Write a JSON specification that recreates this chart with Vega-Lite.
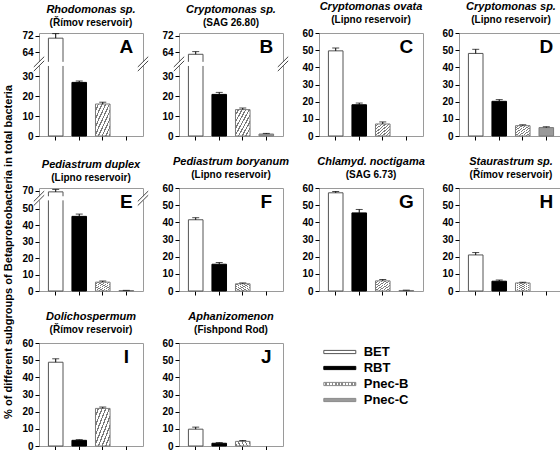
{
"$schema":"https://vega.github.io/schema/vega-lite/v6.json",
"padding":{"left":3,"top":0,"right":0,"bottom":0},
"spacing":13,
"resolve":{"scale":{"x":"independent","y":"independent"}},
"title":{"text":"% of different subgroups of Betaproteobacteria in total bacteria","orient":"left","anchor":"middle","fontSize":11.1,"fontWeight":"bold","fontStyle":"normal","offset":7,"dx":-26},
"datasets":{"bars":[
{"p":"A","g":"BET","v":70.8,"hi":73.0},{"p":"A","g":"RBT","v":26.8,"hi":27.5},{"p":"A","g":"Pnec-B","v":16.0,"hi":16.9},
{"p":"B","g":"BET","v":63.0,"hi":64.3},{"p":"B","g":"RBT","v":20.8,"hi":21.8},{"p":"B","g":"Pnec-B","v":13.2,"hi":14.0},{"p":"B","g":"Pnec-C","v":1.0,"hi":1.3},
{"p":"C","g":"BET","v":49.6,"hi":51.2},{"p":"C","g":"RBT","v":18.2,"hi":19.2},{"p":"C","g":"Pnec-B","v":7.0,"hi":8.2},
{"p":"D","g":"BET","v":48.1,"hi":50.5},{"p":"D","g":"RBT","v":20.2,"hi":21.2},{"p":"D","g":"Pnec-B","v":6.0,"hi":6.5},{"p":"D","g":"Pnec-C","v":4.9,"hi":5.4},
{"p":"E","g":"BET","v":69.3,"hi":70.8},{"p":"E","g":"RBT","v":45.5,"hi":46.9},{"p":"E","g":"Pnec-B","v":5.4,"hi":6.1},{"p":"E","g":"Pnec-C","v":0.3,"hi":0.4},
{"p":"F","g":"BET","v":41.5,"hi":42.7},{"p":"F","g":"RBT","v":15.6,"hi":16.6},{"p":"F","g":"Pnec-B","v":4.2,"hi":4.7},
{"p":"G","g":"BET","v":57.2,"hi":58.0},{"p":"G","g":"RBT","v":45.5,"hi":47.5},{"p":"G","g":"Pnec-B","v":5.9,"hi":6.7},{"p":"G","g":"Pnec-C","v":0.3,"hi":0.5},
{"p":"H","g":"BET","v":21.0,"hi":22.4},{"p":"H","g":"RBT","v":5.7,"hi":6.4},{"p":"H","g":"Pnec-B","v":4.7,"hi":5.1},
{"p":"I","g":"BET","v":48.8,"hi":50.8},{"p":"I","g":"RBT","v":3.3,"hi":3.7},{"p":"I","g":"Pnec-B","v":21.9,"hi":22.7},
{"p":"J","g":"BET","v":9.8,"hi":11.0},{"p":"J","g":"RBT","v":1.6,"hi":2.0},{"p":"J","g":"Pnec-B","v":2.7,"hi":3.2}
]},
"vconcat":[
{"hconcat":[
{"title":{"text":"Rhodomonas sp.","subtitle":"(Římov reservoir)"},"width":104,"height":103,
 "resolve":{"scale":{"x":"independent","y":"independent"}},
 "layer":[
  {"data":{"name":"bars"},"transform":[{"filter":"datum.p==='A'"}],
   "encoding":{"x":{"field":"g","type":"nominal","title":null,"scale":{"domain":["BET","RBT","Pnec-B","Pnec-C"],"paddingInner":0.38,"paddingOuter":0.4},"axis":{"labels":false,"ticks":true}}},
   "layer":[
    {"mark":{"type":"bar","strokeWidth":1},"encoding":{"y":{"field":"v","type":"quantitative","title":null,"scale":{"domain":[0,36,58.3,73.3],"range":[103,31,31,0],"nice":false,"zero":false},"axis":{"values":[0,10,20,30,64,72],"labelOverlap":false,"tickCount":20}},
     "fill":{"condition":[{"test":"datum.g==='BET'","value":"#ffffff"},{"test":"datum.g==='RBT'","value":"#000000"},{"test":"datum.g==='Pnec-B'","value":{"gradient":"linear","x1":0,"y1":0,"x2":1,"y2":1,"stops":[{"offset":0,"color":"#ffffff"},{"offset":0.08,"color":"#ffffff"},{"offset":0.08,"color":"#7a7a7a"},{"offset":0.125,"color":"#7a7a7a"},{"offset":0.125,"color":"#ffffff"},{"offset":0.205,"color":"#ffffff"},{"offset":0.205,"color":"#7a7a7a"},{"offset":0.25,"color":"#7a7a7a"},{"offset":0.25,"color":"#ffffff"},{"offset":0.33,"color":"#ffffff"},{"offset":0.33,"color":"#7a7a7a"},{"offset":0.375,"color":"#7a7a7a"},{"offset":0.375,"color":"#ffffff"},{"offset":0.455,"color":"#ffffff"},{"offset":0.455,"color":"#7a7a7a"},{"offset":0.5,"color":"#7a7a7a"},{"offset":0.5,"color":"#ffffff"},{"offset":0.58,"color":"#ffffff"},{"offset":0.58,"color":"#7a7a7a"},{"offset":0.625,"color":"#7a7a7a"},{"offset":0.625,"color":"#ffffff"},{"offset":0.705,"color":"#ffffff"},{"offset":0.705,"color":"#7a7a7a"},{"offset":0.75,"color":"#7a7a7a"},{"offset":0.75,"color":"#ffffff"},{"offset":0.83,"color":"#ffffff"},{"offset":0.83,"color":"#7a7a7a"},{"offset":0.875,"color":"#7a7a7a"},{"offset":0.875,"color":"#ffffff"},{"offset":0.955,"color":"#ffffff"},{"offset":0.955,"color":"#7a7a7a"},{"offset":1,"color":"#7a7a7a"}]}}],"value":"#9a9a9a"},
     "stroke":{"condition":[{"test":"datum.g==='BET'","value":"#555555"},{"test":"datum.g==='RBT'","value":"#000000"}],"value":"#7a7a7a"}}},
    {"mark":{"type":"rule","color":"#000","strokeWidth":1},"encoding":{"y":{"field":"v","type":"quantitative","axis":{"values":[0,10,20,30,64,72],"labelOverlap":false,"tickCount":20}},"y2":{"field":"hi"}}},
    {"mark":{"type":"tick","color":"#000","size":7,"thickness":1,"orient":"horizontal"},"encoding":{"y":{"field":"hi","type":"quantitative","axis":{"values":[0,10,20,30,64,72],"labelOverlap":false,"tickCount":20}}}},
    {"data":{"values":[{"L":"A","p":"A"}]},"mark":{"type":"text","fontSize":19,"fontWeight":"bold"},"encoding":{"x":{"datum":"Pnec-C","type":"nominal"},"y":{"datum":66.5,"type":"quantitative"},"text":{"field":"L"}}}
   ]},
  {"data":{"values":[{}]},
   "layer":[
    {"mark":{"type":"rect","fill":"#ffffff"},"encoding":{"x":{"datum":-0.03,"type":"quantitative","scale":{"domain":[0,1]},"axis":null},"x2":{"datum":0.26},"y":{"datum":0.68,"type":"quantitative","scale":{"domain":[0,1]},"axis":null},"y2":{"datum":0.72}}},
    {"mark":{"type":"rect","fill":"#ffffff"},"encoding":{"x":{"datum":0.97,"type":"quantitative","scale":{"domain":[0,1]},"axis":null},"x2":{"datum":1.03},"y":{"datum":0.68,"type":"quantitative","scale":{"domain":[0,1]},"axis":null},"y2":{"datum":0.72}}},
    {"mark":{"type":"rule","color":"#444"},"encoding":{"x":{"datum":-0.05,"type":"quantitative","scale":{"domain":[0,1]},"axis":null},"x2":{"datum":0.05},"y":{"datum":0.63,"type":"quantitative","scale":{"domain":[0,1]},"axis":null},"y2":{"datum":0.73}}},
    {"mark":{"type":"rule","color":"#444"},"encoding":{"x":{"datum":-0.05,"type":"quantitative","scale":{"domain":[0,1]},"axis":null},"x2":{"datum":0.05},"y":{"datum":0.67,"type":"quantitative","scale":{"domain":[0,1]},"axis":null},"y2":{"datum":0.77}}},
    {"mark":{"type":"rule","color":"#444"},"encoding":{"x":{"datum":0.95,"type":"quantitative","scale":{"domain":[0,1]},"axis":null},"x2":{"datum":1.05},"y":{"datum":0.63,"type":"quantitative","scale":{"domain":[0,1]},"axis":null},"y2":{"datum":0.73}}},
    {"mark":{"type":"rule","color":"#444"},"encoding":{"x":{"datum":0.95,"type":"quantitative","scale":{"domain":[0,1]},"axis":null},"x2":{"datum":1.05},"y":{"datum":0.67,"type":"quantitative","scale":{"domain":[0,1]},"axis":null},"y2":{"datum":0.77}}}
   ]}
 ]},
{"title":{"text":"Cryptomonas sp.","subtitle":"(SAG 26.80)"},"width":104,"height":103,
 "resolve":{"scale":{"x":"independent","y":"independent"}},
 "layer":[
  {"data":{"name":"bars"},"transform":[{"filter":"datum.p==='B'"}],
   "encoding":{"x":{"field":"g","type":"nominal","title":null,"scale":{"domain":["BET","RBT","Pnec-B","Pnec-C"],"paddingInner":0.38,"paddingOuter":0.4},"axis":{"labels":false,"ticks":true}}},
   "layer":[
    {"mark":{"type":"bar","strokeWidth":1},"encoding":{"y":{"field":"v","type":"quantitative","title":null,"scale":{"domain":[0,36,58.3,73.3],"range":[103,31,31,0],"nice":false,"zero":false},"axis":{"values":[0,10,20,30,64,72],"labelOverlap":false,"tickCount":20}},
     "fill":{"condition":[{"test":"datum.g==='BET'","value":"#ffffff"},{"test":"datum.g==='RBT'","value":"#000000"},{"test":"datum.g==='Pnec-B'","value":{"gradient":"linear","x1":0,"y1":0,"x2":1,"y2":1,"stops":[{"offset":0,"color":"#ffffff"},{"offset":0.08,"color":"#ffffff"},{"offset":0.08,"color":"#7a7a7a"},{"offset":0.125,"color":"#7a7a7a"},{"offset":0.125,"color":"#ffffff"},{"offset":0.205,"color":"#ffffff"},{"offset":0.205,"color":"#7a7a7a"},{"offset":0.25,"color":"#7a7a7a"},{"offset":0.25,"color":"#ffffff"},{"offset":0.33,"color":"#ffffff"},{"offset":0.33,"color":"#7a7a7a"},{"offset":0.375,"color":"#7a7a7a"},{"offset":0.375,"color":"#ffffff"},{"offset":0.455,"color":"#ffffff"},{"offset":0.455,"color":"#7a7a7a"},{"offset":0.5,"color":"#7a7a7a"},{"offset":0.5,"color":"#ffffff"},{"offset":0.58,"color":"#ffffff"},{"offset":0.58,"color":"#7a7a7a"},{"offset":0.625,"color":"#7a7a7a"},{"offset":0.625,"color":"#ffffff"},{"offset":0.705,"color":"#ffffff"},{"offset":0.705,"color":"#7a7a7a"},{"offset":0.75,"color":"#7a7a7a"},{"offset":0.75,"color":"#ffffff"},{"offset":0.83,"color":"#ffffff"},{"offset":0.83,"color":"#7a7a7a"},{"offset":0.875,"color":"#7a7a7a"},{"offset":0.875,"color":"#ffffff"},{"offset":0.955,"color":"#ffffff"},{"offset":0.955,"color":"#7a7a7a"},{"offset":1,"color":"#7a7a7a"}]}}],"value":"#9a9a9a"},
     "stroke":{"condition":[{"test":"datum.g==='BET'","value":"#555555"},{"test":"datum.g==='RBT'","value":"#000000"}],"value":"#7a7a7a"}}},
    {"mark":{"type":"rule","color":"#000","strokeWidth":1},"encoding":{"y":{"field":"v","type":"quantitative","axis":{"values":[0,10,20,30,64,72],"labelOverlap":false,"tickCount":20}},"y2":{"field":"hi"}}},
    {"mark":{"type":"tick","color":"#000","size":7,"thickness":1,"orient":"horizontal"},"encoding":{"y":{"field":"hi","type":"quantitative","axis":{"values":[0,10,20,30,64,72],"labelOverlap":false,"tickCount":20}}}},
    {"data":{"values":[{"L":"B","p":"B"}]},"mark":{"type":"text","fontSize":19,"fontWeight":"bold"},"encoding":{"x":{"datum":"Pnec-C","type":"nominal"},"y":{"datum":66.5,"type":"quantitative"},"text":{"field":"L"}}}
   ]},
  {"data":{"values":[{}]},
   "layer":[
    {"mark":{"type":"rect","fill":"#ffffff"},"encoding":{"x":{"datum":-0.03,"type":"quantitative","scale":{"domain":[0,1]},"axis":null},"x2":{"datum":0.26},"y":{"datum":0.68,"type":"quantitative","scale":{"domain":[0,1]},"axis":null},"y2":{"datum":0.72}}},
    {"mark":{"type":"rect","fill":"#ffffff"},"encoding":{"x":{"datum":0.97,"type":"quantitative","scale":{"domain":[0,1]},"axis":null},"x2":{"datum":1.03},"y":{"datum":0.68,"type":"quantitative","scale":{"domain":[0,1]},"axis":null},"y2":{"datum":0.72}}},
    {"mark":{"type":"rule","color":"#444"},"encoding":{"x":{"datum":-0.05,"type":"quantitative","scale":{"domain":[0,1]},"axis":null},"x2":{"datum":0.05},"y":{"datum":0.63,"type":"quantitative","scale":{"domain":[0,1]},"axis":null},"y2":{"datum":0.73}}},
    {"mark":{"type":"rule","color":"#444"},"encoding":{"x":{"datum":-0.05,"type":"quantitative","scale":{"domain":[0,1]},"axis":null},"x2":{"datum":0.05},"y":{"datum":0.67,"type":"quantitative","scale":{"domain":[0,1]},"axis":null},"y2":{"datum":0.77}}},
    {"mark":{"type":"rule","color":"#444"},"encoding":{"x":{"datum":0.95,"type":"quantitative","scale":{"domain":[0,1]},"axis":null},"x2":{"datum":1.05},"y":{"datum":0.63,"type":"quantitative","scale":{"domain":[0,1]},"axis":null},"y2":{"datum":0.73}}},
    {"mark":{"type":"rule","color":"#444"},"encoding":{"x":{"datum":0.95,"type":"quantitative","scale":{"domain":[0,1]},"axis":null},"x2":{"datum":1.05},"y":{"datum":0.67,"type":"quantitative","scale":{"domain":[0,1]},"axis":null},"y2":{"datum":0.77}}}
   ]}
 ]},
{"title":{"text":"Cryptomonas ovata","subtitle":"(Lipno reservoir)"},"width":104,"height":103,
 "data":{"name":"bars"},"transform":[{"filter":"datum.p==='C'"}],
 "encoding":{"x":{"field":"g","type":"nominal","title":null,"scale":{"domain":["BET","RBT","Pnec-B","Pnec-C"],"paddingInner":0.38,"paddingOuter":0.4},"axis":{"labels":false,"ticks":true}}},
 "layer":[
  {"mark":{"type":"bar","strokeWidth":1},"encoding":{"y":{"field":"v","type":"quantitative","title":null,"scale":{"domain":[0,60],"nice":false},"axis":{"values":[0,10,20,30,40,50,60],"labelOverlap":false,"tickCount":20}},
   "fill":{"condition":[{"test":"datum.g==='BET'","value":"#ffffff"},{"test":"datum.g==='RBT'","value":"#000000"},{"test":"datum.g==='Pnec-B'","value":{"gradient":"linear","x1":0,"y1":0,"x2":1,"y2":1,"stops":[{"offset":0,"color":"#ffffff"},{"offset":0.08,"color":"#ffffff"},{"offset":0.08,"color":"#7a7a7a"},{"offset":0.125,"color":"#7a7a7a"},{"offset":0.125,"color":"#ffffff"},{"offset":0.205,"color":"#ffffff"},{"offset":0.205,"color":"#7a7a7a"},{"offset":0.25,"color":"#7a7a7a"},{"offset":0.25,"color":"#ffffff"},{"offset":0.33,"color":"#ffffff"},{"offset":0.33,"color":"#7a7a7a"},{"offset":0.375,"color":"#7a7a7a"},{"offset":0.375,"color":"#ffffff"},{"offset":0.455,"color":"#ffffff"},{"offset":0.455,"color":"#7a7a7a"},{"offset":0.5,"color":"#7a7a7a"},{"offset":0.5,"color":"#ffffff"},{"offset":0.58,"color":"#ffffff"},{"offset":0.58,"color":"#7a7a7a"},{"offset":0.625,"color":"#7a7a7a"},{"offset":0.625,"color":"#ffffff"},{"offset":0.705,"color":"#ffffff"},{"offset":0.705,"color":"#7a7a7a"},{"offset":0.75,"color":"#7a7a7a"},{"offset":0.75,"color":"#ffffff"},{"offset":0.83,"color":"#ffffff"},{"offset":0.83,"color":"#7a7a7a"},{"offset":0.875,"color":"#7a7a7a"},{"offset":0.875,"color":"#ffffff"},{"offset":0.955,"color":"#ffffff"},{"offset":0.955,"color":"#7a7a7a"},{"offset":1,"color":"#7a7a7a"}]}}],"value":"#9a9a9a"},
   "stroke":{"condition":[{"test":"datum.g==='BET'","value":"#555555"},{"test":"datum.g==='RBT'","value":"#000000"}],"value":"#7a7a7a"}}},
  {"mark":{"type":"rule","color":"#000","strokeWidth":1},"encoding":{"y":{"field":"v","type":"quantitative","axis":{"values":[0,10,20,30,40,50,60],"labelOverlap":false,"tickCount":20}},"y2":{"field":"hi"}}},
  {"mark":{"type":"tick","color":"#000","size":7,"thickness":1,"orient":"horizontal"},"encoding":{"y":{"field":"hi","type":"quantitative","axis":{"values":[0,10,20,30,40,50,60],"labelOverlap":false,"tickCount":20}}}},
  {"data":{"values":[{"L":"C","p":"C"}]},"mark":{"type":"text","fontSize":19,"fontWeight":"bold"},"encoding":{"x":{"datum":"Pnec-C","type":"nominal"},"y":{"datum":51.8,"type":"quantitative"},"text":{"field":"L"}}}
 ]},
{"title":{"text":"Cryptomonas sp.","subtitle":"(Lipno reservoir)"},"width":104,"height":103,
 "data":{"name":"bars"},"transform":[{"filter":"datum.p==='D'"}],
 "encoding":{"x":{"field":"g","type":"nominal","title":null,"scale":{"domain":["BET","RBT","Pnec-B","Pnec-C"],"paddingInner":0.38,"paddingOuter":0.4},"axis":{"labels":false,"ticks":true}}},
 "layer":[
  {"mark":{"type":"bar","strokeWidth":1},"encoding":{"y":{"field":"v","type":"quantitative","title":null,"scale":{"domain":[0,60],"nice":false},"axis":{"values":[0,10,20,30,40,50,60],"labelOverlap":false,"tickCount":20}},
   "fill":{"condition":[{"test":"datum.g==='BET'","value":"#ffffff"},{"test":"datum.g==='RBT'","value":"#000000"},{"test":"datum.g==='Pnec-B'","value":{"gradient":"linear","x1":0,"y1":0,"x2":1,"y2":1,"stops":[{"offset":0,"color":"#ffffff"},{"offset":0.08,"color":"#ffffff"},{"offset":0.08,"color":"#7a7a7a"},{"offset":0.125,"color":"#7a7a7a"},{"offset":0.125,"color":"#ffffff"},{"offset":0.205,"color":"#ffffff"},{"offset":0.205,"color":"#7a7a7a"},{"offset":0.25,"color":"#7a7a7a"},{"offset":0.25,"color":"#ffffff"},{"offset":0.33,"color":"#ffffff"},{"offset":0.33,"color":"#7a7a7a"},{"offset":0.375,"color":"#7a7a7a"},{"offset":0.375,"color":"#ffffff"},{"offset":0.455,"color":"#ffffff"},{"offset":0.455,"color":"#7a7a7a"},{"offset":0.5,"color":"#7a7a7a"},{"offset":0.5,"color":"#ffffff"},{"offset":0.58,"color":"#ffffff"},{"offset":0.58,"color":"#7a7a7a"},{"offset":0.625,"color":"#7a7a7a"},{"offset":0.625,"color":"#ffffff"},{"offset":0.705,"color":"#ffffff"},{"offset":0.705,"color":"#7a7a7a"},{"offset":0.75,"color":"#7a7a7a"},{"offset":0.75,"color":"#ffffff"},{"offset":0.83,"color":"#ffffff"},{"offset":0.83,"color":"#7a7a7a"},{"offset":0.875,"color":"#7a7a7a"},{"offset":0.875,"color":"#ffffff"},{"offset":0.955,"color":"#ffffff"},{"offset":0.955,"color":"#7a7a7a"},{"offset":1,"color":"#7a7a7a"}]}}],"value":"#9a9a9a"},
   "stroke":{"condition":[{"test":"datum.g==='BET'","value":"#555555"},{"test":"datum.g==='RBT'","value":"#000000"}],"value":"#7a7a7a"}}},
  {"mark":{"type":"rule","color":"#000","strokeWidth":1},"encoding":{"y":{"field":"v","type":"quantitative","axis":{"values":[0,10,20,30,40,50,60],"labelOverlap":false,"tickCount":20}},"y2":{"field":"hi"}}},
  {"mark":{"type":"tick","color":"#000","size":7,"thickness":1,"orient":"horizontal"},"encoding":{"y":{"field":"hi","type":"quantitative","axis":{"values":[0,10,20,30,40,50,60],"labelOverlap":false,"tickCount":20}}}},
  {"data":{"values":[{"L":"D","p":"D"}]},"mark":{"type":"text","fontSize":19,"fontWeight":"bold"},"encoding":{"x":{"datum":"Pnec-C","type":"nominal"},"y":{"datum":51.8,"type":"quantitative"},"text":{"field":"L"}}}
 ]}
],"spacing":36,"bounds":"flush","resolve":{"scale":{"x":"independent","y":"independent"}}},
{"hconcat":[
{"title":{"text":"Pediastrum duplex","subtitle":"(Lipno reservoir)"},"width":104,"height":103,
 "resolve":{"scale":{"x":"independent","y":"independent"}},
 "layer":[
  {"data":{"name":"bars"},"transform":[{"filter":"datum.p==='E'"}],
   "encoding":{"x":{"field":"g","type":"nominal","title":null,"scale":{"domain":["BET","RBT","Pnec-B","Pnec-C"],"paddingInner":0.38,"paddingOuter":0.4},"axis":{"labels":false,"ticks":true}}},
   "layer":[
    {"mark":{"type":"bar","strokeWidth":1},"encoding":{"y":{"field":"v","type":"quantitative","title":null,"scale":{"domain":[0,56.7,65.5,71.7],"range":[103,10,10,0],"nice":false,"zero":false},"axis":{"values":[0,10,20,30,40,50,70],"labelOverlap":false,"tickCount":20}},
     "fill":{"condition":[{"test":"datum.g==='BET'","value":"#ffffff"},{"test":"datum.g==='RBT'","value":"#000000"},{"test":"datum.g==='Pnec-B'","value":{"gradient":"linear","x1":0,"y1":0,"x2":1,"y2":1,"stops":[{"offset":0,"color":"#ffffff"},{"offset":0.08,"color":"#ffffff"},{"offset":0.08,"color":"#7a7a7a"},{"offset":0.125,"color":"#7a7a7a"},{"offset":0.125,"color":"#ffffff"},{"offset":0.205,"color":"#ffffff"},{"offset":0.205,"color":"#7a7a7a"},{"offset":0.25,"color":"#7a7a7a"},{"offset":0.25,"color":"#ffffff"},{"offset":0.33,"color":"#ffffff"},{"offset":0.33,"color":"#7a7a7a"},{"offset":0.375,"color":"#7a7a7a"},{"offset":0.375,"color":"#ffffff"},{"offset":0.455,"color":"#ffffff"},{"offset":0.455,"color":"#7a7a7a"},{"offset":0.5,"color":"#7a7a7a"},{"offset":0.5,"color":"#ffffff"},{"offset":0.58,"color":"#ffffff"},{"offset":0.58,"color":"#7a7a7a"},{"offset":0.625,"color":"#7a7a7a"},{"offset":0.625,"color":"#ffffff"},{"offset":0.705,"color":"#ffffff"},{"offset":0.705,"color":"#7a7a7a"},{"offset":0.75,"color":"#7a7a7a"},{"offset":0.75,"color":"#ffffff"},{"offset":0.83,"color":"#ffffff"},{"offset":0.83,"color":"#7a7a7a"},{"offset":0.875,"color":"#7a7a7a"},{"offset":0.875,"color":"#ffffff"},{"offset":0.955,"color":"#ffffff"},{"offset":0.955,"color":"#7a7a7a"},{"offset":1,"color":"#7a7a7a"}]}}],"value":"#9a9a9a"},
     "stroke":{"condition":[{"test":"datum.g==='BET'","value":"#555555"},{"test":"datum.g==='RBT'","value":"#000000"}],"value":"#7a7a7a"}}},
    {"mark":{"type":"rule","color":"#000","strokeWidth":1},"encoding":{"y":{"field":"v","type":"quantitative","axis":{"values":[0,10,20,30,40,50,70],"labelOverlap":false,"tickCount":20}},"y2":{"field":"hi"}}},
    {"mark":{"type":"tick","color":"#000","size":7,"thickness":1,"orient":"horizontal"},"encoding":{"y":{"field":"hi","type":"quantitative","axis":{"values":[0,10,20,30,40,50,70],"labelOverlap":false,"tickCount":20}}}},
    {"data":{"values":[{"L":"E","p":"E"}]},"mark":{"type":"text","fontSize":19,"fontWeight":"bold"},"encoding":{"x":{"datum":"Pnec-C","type":"nominal"},"y":{"datum":54.3,"type":"quantitative"},"text":{"field":"L"}}}
   ]},
  {"data":{"values":[{}]},
   "layer":[
    {"mark":{"type":"rect","fill":"#ffffff"},"encoding":{"x":{"datum":-0.03,"type":"quantitative","scale":{"domain":[0,1]},"axis":null},"x2":{"datum":0.26},"y":{"datum":0.88,"type":"quantitative","scale":{"domain":[0,1]},"axis":null},"y2":{"datum":0.92}}},
    {"mark":{"type":"rect","fill":"#ffffff"},"encoding":{"x":{"datum":0.97,"type":"quantitative","scale":{"domain":[0,1]},"axis":null},"x2":{"datum":1.03},"y":{"datum":0.88,"type":"quantitative","scale":{"domain":[0,1]},"axis":null},"y2":{"datum":0.92}}},
    {"mark":{"type":"rule","color":"#444"},"encoding":{"x":{"datum":-0.05,"type":"quantitative","scale":{"domain":[0,1]},"axis":null},"x2":{"datum":0.05},"y":{"datum":0.83,"type":"quantitative","scale":{"domain":[0,1]},"axis":null},"y2":{"datum":0.93}}},
    {"mark":{"type":"rule","color":"#444"},"encoding":{"x":{"datum":-0.05,"type":"quantitative","scale":{"domain":[0,1]},"axis":null},"x2":{"datum":0.05},"y":{"datum":0.87,"type":"quantitative","scale":{"domain":[0,1]},"axis":null},"y2":{"datum":0.97}}},
    {"mark":{"type":"rule","color":"#444"},"encoding":{"x":{"datum":0.95,"type":"quantitative","scale":{"domain":[0,1]},"axis":null},"x2":{"datum":1.05},"y":{"datum":0.83,"type":"quantitative","scale":{"domain":[0,1]},"axis":null},"y2":{"datum":0.93}}},
    {"mark":{"type":"rule","color":"#444"},"encoding":{"x":{"datum":0.95,"type":"quantitative","scale":{"domain":[0,1]},"axis":null},"x2":{"datum":1.05},"y":{"datum":0.87,"type":"quantitative","scale":{"domain":[0,1]},"axis":null},"y2":{"datum":0.97}}}
   ]}
 ]},
{"title":{"text":"Pediastrum boryanum","subtitle":"(Lipno reservoir)"},"width":104,"height":103,
 "data":{"name":"bars"},"transform":[{"filter":"datum.p==='F'"}],
 "encoding":{"x":{"field":"g","type":"nominal","title":null,"scale":{"domain":["BET","RBT","Pnec-B","Pnec-C"],"paddingInner":0.38,"paddingOuter":0.4},"axis":{"labels":false,"ticks":true}}},
 "layer":[
  {"mark":{"type":"bar","strokeWidth":1},"encoding":{"y":{"field":"v","type":"quantitative","title":null,"scale":{"domain":[0,60],"nice":false},"axis":{"values":[0,10,20,30,40,50,60],"labelOverlap":false,"tickCount":20}},
   "fill":{"condition":[{"test":"datum.g==='BET'","value":"#ffffff"},{"test":"datum.g==='RBT'","value":"#000000"},{"test":"datum.g==='Pnec-B'","value":{"gradient":"linear","x1":0,"y1":0,"x2":1,"y2":1,"stops":[{"offset":0,"color":"#ffffff"},{"offset":0.08,"color":"#ffffff"},{"offset":0.08,"color":"#7a7a7a"},{"offset":0.125,"color":"#7a7a7a"},{"offset":0.125,"color":"#ffffff"},{"offset":0.205,"color":"#ffffff"},{"offset":0.205,"color":"#7a7a7a"},{"offset":0.25,"color":"#7a7a7a"},{"offset":0.25,"color":"#ffffff"},{"offset":0.33,"color":"#ffffff"},{"offset":0.33,"color":"#7a7a7a"},{"offset":0.375,"color":"#7a7a7a"},{"offset":0.375,"color":"#ffffff"},{"offset":0.455,"color":"#ffffff"},{"offset":0.455,"color":"#7a7a7a"},{"offset":0.5,"color":"#7a7a7a"},{"offset":0.5,"color":"#ffffff"},{"offset":0.58,"color":"#ffffff"},{"offset":0.58,"color":"#7a7a7a"},{"offset":0.625,"color":"#7a7a7a"},{"offset":0.625,"color":"#ffffff"},{"offset":0.705,"color":"#ffffff"},{"offset":0.705,"color":"#7a7a7a"},{"offset":0.75,"color":"#7a7a7a"},{"offset":0.75,"color":"#ffffff"},{"offset":0.83,"color":"#ffffff"},{"offset":0.83,"color":"#7a7a7a"},{"offset":0.875,"color":"#7a7a7a"},{"offset":0.875,"color":"#ffffff"},{"offset":0.955,"color":"#ffffff"},{"offset":0.955,"color":"#7a7a7a"},{"offset":1,"color":"#7a7a7a"}]}}],"value":"#9a9a9a"},
   "stroke":{"condition":[{"test":"datum.g==='BET'","value":"#555555"},{"test":"datum.g==='RBT'","value":"#000000"}],"value":"#7a7a7a"}}},
  {"mark":{"type":"rule","color":"#000","strokeWidth":1},"encoding":{"y":{"field":"v","type":"quantitative","axis":{"values":[0,10,20,30,40,50,60],"labelOverlap":false,"tickCount":20}},"y2":{"field":"hi"}}},
  {"mark":{"type":"tick","color":"#000","size":7,"thickness":1,"orient":"horizontal"},"encoding":{"y":{"field":"hi","type":"quantitative","axis":{"values":[0,10,20,30,40,50,60],"labelOverlap":false,"tickCount":20}}}},
  {"data":{"values":[{"L":"F","p":"F"}]},"mark":{"type":"text","fontSize":19,"fontWeight":"bold"},"encoding":{"x":{"datum":"Pnec-C","type":"nominal"},"y":{"datum":51.8,"type":"quantitative"},"text":{"field":"L"}}}
 ]},
{"title":{"text":"Chlamyd. noctigama","subtitle":"(SAG 6.73)"},"width":104,"height":103,
 "data":{"name":"bars"},"transform":[{"filter":"datum.p==='G'"}],
 "encoding":{"x":{"field":"g","type":"nominal","title":null,"scale":{"domain":["BET","RBT","Pnec-B","Pnec-C"],"paddingInner":0.38,"paddingOuter":0.4},"axis":{"labels":false,"ticks":true}}},
 "layer":[
  {"mark":{"type":"bar","strokeWidth":1},"encoding":{"y":{"field":"v","type":"quantitative","title":null,"scale":{"domain":[0,60],"nice":false},"axis":{"values":[0,10,20,30,40,50,60],"labelOverlap":false,"tickCount":20}},
   "fill":{"condition":[{"test":"datum.g==='BET'","value":"#ffffff"},{"test":"datum.g==='RBT'","value":"#000000"},{"test":"datum.g==='Pnec-B'","value":{"gradient":"linear","x1":0,"y1":0,"x2":1,"y2":1,"stops":[{"offset":0,"color":"#ffffff"},{"offset":0.08,"color":"#ffffff"},{"offset":0.08,"color":"#7a7a7a"},{"offset":0.125,"color":"#7a7a7a"},{"offset":0.125,"color":"#ffffff"},{"offset":0.205,"color":"#ffffff"},{"offset":0.205,"color":"#7a7a7a"},{"offset":0.25,"color":"#7a7a7a"},{"offset":0.25,"color":"#ffffff"},{"offset":0.33,"color":"#ffffff"},{"offset":0.33,"color":"#7a7a7a"},{"offset":0.375,"color":"#7a7a7a"},{"offset":0.375,"color":"#ffffff"},{"offset":0.455,"color":"#ffffff"},{"offset":0.455,"color":"#7a7a7a"},{"offset":0.5,"color":"#7a7a7a"},{"offset":0.5,"color":"#ffffff"},{"offset":0.58,"color":"#ffffff"},{"offset":0.58,"color":"#7a7a7a"},{"offset":0.625,"color":"#7a7a7a"},{"offset":0.625,"color":"#ffffff"},{"offset":0.705,"color":"#ffffff"},{"offset":0.705,"color":"#7a7a7a"},{"offset":0.75,"color":"#7a7a7a"},{"offset":0.75,"color":"#ffffff"},{"offset":0.83,"color":"#ffffff"},{"offset":0.83,"color":"#7a7a7a"},{"offset":0.875,"color":"#7a7a7a"},{"offset":0.875,"color":"#ffffff"},{"offset":0.955,"color":"#ffffff"},{"offset":0.955,"color":"#7a7a7a"},{"offset":1,"color":"#7a7a7a"}]}}],"value":"#9a9a9a"},
   "stroke":{"condition":[{"test":"datum.g==='BET'","value":"#555555"},{"test":"datum.g==='RBT'","value":"#000000"}],"value":"#7a7a7a"}}},
  {"mark":{"type":"rule","color":"#000","strokeWidth":1},"encoding":{"y":{"field":"v","type":"quantitative","axis":{"values":[0,10,20,30,40,50,60],"labelOverlap":false,"tickCount":20}},"y2":{"field":"hi"}}},
  {"mark":{"type":"tick","color":"#000","size":7,"thickness":1,"orient":"horizontal"},"encoding":{"y":{"field":"hi","type":"quantitative","axis":{"values":[0,10,20,30,40,50,60],"labelOverlap":false,"tickCount":20}}}},
  {"data":{"values":[{"L":"G","p":"G"}]},"mark":{"type":"text","fontSize":19,"fontWeight":"bold"},"encoding":{"x":{"datum":"Pnec-C","type":"nominal"},"y":{"datum":51.8,"type":"quantitative"},"text":{"field":"L"}}}
 ]},
{"title":{"text":"Staurastrum sp.","subtitle":"(Římov reservoir)"},"width":104,"height":103,
 "data":{"name":"bars"},"transform":[{"filter":"datum.p==='H'"}],
 "encoding":{"x":{"field":"g","type":"nominal","title":null,"scale":{"domain":["BET","RBT","Pnec-B","Pnec-C"],"paddingInner":0.38,"paddingOuter":0.4},"axis":{"labels":false,"ticks":true}}},
 "layer":[
  {"mark":{"type":"bar","strokeWidth":1},"encoding":{"y":{"field":"v","type":"quantitative","title":null,"scale":{"domain":[0,60],"nice":false},"axis":{"values":[0,10,20,30,40,50,60],"labelOverlap":false,"tickCount":20}},
   "fill":{"condition":[{"test":"datum.g==='BET'","value":"#ffffff"},{"test":"datum.g==='RBT'","value":"#000000"},{"test":"datum.g==='Pnec-B'","value":{"gradient":"linear","x1":0,"y1":0,"x2":1,"y2":1,"stops":[{"offset":0,"color":"#ffffff"},{"offset":0.08,"color":"#ffffff"},{"offset":0.08,"color":"#7a7a7a"},{"offset":0.125,"color":"#7a7a7a"},{"offset":0.125,"color":"#ffffff"},{"offset":0.205,"color":"#ffffff"},{"offset":0.205,"color":"#7a7a7a"},{"offset":0.25,"color":"#7a7a7a"},{"offset":0.25,"color":"#ffffff"},{"offset":0.33,"color":"#ffffff"},{"offset":0.33,"color":"#7a7a7a"},{"offset":0.375,"color":"#7a7a7a"},{"offset":0.375,"color":"#ffffff"},{"offset":0.455,"color":"#ffffff"},{"offset":0.455,"color":"#7a7a7a"},{"offset":0.5,"color":"#7a7a7a"},{"offset":0.5,"color":"#ffffff"},{"offset":0.58,"color":"#ffffff"},{"offset":0.58,"color":"#7a7a7a"},{"offset":0.625,"color":"#7a7a7a"},{"offset":0.625,"color":"#ffffff"},{"offset":0.705,"color":"#ffffff"},{"offset":0.705,"color":"#7a7a7a"},{"offset":0.75,"color":"#7a7a7a"},{"offset":0.75,"color":"#ffffff"},{"offset":0.83,"color":"#ffffff"},{"offset":0.83,"color":"#7a7a7a"},{"offset":0.875,"color":"#7a7a7a"},{"offset":0.875,"color":"#ffffff"},{"offset":0.955,"color":"#ffffff"},{"offset":0.955,"color":"#7a7a7a"},{"offset":1,"color":"#7a7a7a"}]}}],"value":"#9a9a9a"},
   "stroke":{"condition":[{"test":"datum.g==='BET'","value":"#555555"},{"test":"datum.g==='RBT'","value":"#000000"}],"value":"#7a7a7a"}}},
  {"mark":{"type":"rule","color":"#000","strokeWidth":1},"encoding":{"y":{"field":"v","type":"quantitative","axis":{"values":[0,10,20,30,40,50,60],"labelOverlap":false,"tickCount":20}},"y2":{"field":"hi"}}},
  {"mark":{"type":"tick","color":"#000","size":7,"thickness":1,"orient":"horizontal"},"encoding":{"y":{"field":"hi","type":"quantitative","axis":{"values":[0,10,20,30,40,50,60],"labelOverlap":false,"tickCount":20}}}},
  {"data":{"values":[{"L":"H","p":"H"}]},"mark":{"type":"text","fontSize":19,"fontWeight":"bold"},"encoding":{"x":{"datum":"Pnec-C","type":"nominal"},"y":{"datum":51.8,"type":"quantitative"},"text":{"field":"L"}}}
 ]}
],"spacing":36,"bounds":"flush","resolve":{"scale":{"x":"independent","y":"independent"}}},
{"hconcat":[
{"title":{"text":"Dolichospermum","subtitle":"(Římov reservoir)"},"width":104,"height":103,
 "data":{"name":"bars"},"transform":[{"filter":"datum.p==='I'"}],
 "encoding":{"x":{"field":"g","type":"nominal","title":null,"scale":{"domain":["BET","RBT","Pnec-B","Pnec-C"],"paddingInner":0.38,"paddingOuter":0.4},"axis":{"labels":false,"ticks":true}}},
 "layer":[
  {"mark":{"type":"bar","strokeWidth":1},"encoding":{"y":{"field":"v","type":"quantitative","title":null,"scale":{"domain":[0,60],"nice":false},"axis":{"values":[0,10,20,30,40,50,60],"labelOverlap":false,"tickCount":20}},
   "fill":{"condition":[{"test":"datum.g==='BET'","value":"#ffffff"},{"test":"datum.g==='RBT'","value":"#000000"},{"test":"datum.g==='Pnec-B'","value":{"gradient":"linear","x1":0,"y1":0,"x2":1,"y2":1,"stops":[{"offset":0,"color":"#ffffff"},{"offset":0.08,"color":"#ffffff"},{"offset":0.08,"color":"#7a7a7a"},{"offset":0.125,"color":"#7a7a7a"},{"offset":0.125,"color":"#ffffff"},{"offset":0.205,"color":"#ffffff"},{"offset":0.205,"color":"#7a7a7a"},{"offset":0.25,"color":"#7a7a7a"},{"offset":0.25,"color":"#ffffff"},{"offset":0.33,"color":"#ffffff"},{"offset":0.33,"color":"#7a7a7a"},{"offset":0.375,"color":"#7a7a7a"},{"offset":0.375,"color":"#ffffff"},{"offset":0.455,"color":"#ffffff"},{"offset":0.455,"color":"#7a7a7a"},{"offset":0.5,"color":"#7a7a7a"},{"offset":0.5,"color":"#ffffff"},{"offset":0.58,"color":"#ffffff"},{"offset":0.58,"color":"#7a7a7a"},{"offset":0.625,"color":"#7a7a7a"},{"offset":0.625,"color":"#ffffff"},{"offset":0.705,"color":"#ffffff"},{"offset":0.705,"color":"#7a7a7a"},{"offset":0.75,"color":"#7a7a7a"},{"offset":0.75,"color":"#ffffff"},{"offset":0.83,"color":"#ffffff"},{"offset":0.83,"color":"#7a7a7a"},{"offset":0.875,"color":"#7a7a7a"},{"offset":0.875,"color":"#ffffff"},{"offset":0.955,"color":"#ffffff"},{"offset":0.955,"color":"#7a7a7a"},{"offset":1,"color":"#7a7a7a"}]}}],"value":"#9a9a9a"},
   "stroke":{"condition":[{"test":"datum.g==='BET'","value":"#555555"},{"test":"datum.g==='RBT'","value":"#000000"}],"value":"#7a7a7a"}}},
  {"mark":{"type":"rule","color":"#000","strokeWidth":1},"encoding":{"y":{"field":"v","type":"quantitative","axis":{"values":[0,10,20,30,40,50,60],"labelOverlap":false,"tickCount":20}},"y2":{"field":"hi"}}},
  {"mark":{"type":"tick","color":"#000","size":7,"thickness":1,"orient":"horizontal"},"encoding":{"y":{"field":"hi","type":"quantitative","axis":{"values":[0,10,20,30,40,50,60],"labelOverlap":false,"tickCount":20}}}},
  {"data":{"values":[{"L":"I","p":"I"}]},"mark":{"type":"text","fontSize":19,"fontWeight":"bold"},"encoding":{"x":{"datum":"Pnec-C","type":"nominal"},"y":{"datum":51.8,"type":"quantitative"},"text":{"field":"L"}}}
 ]},
{"title":{"text":"Aphanizomenon","subtitle":"(Fishpond Rod)"},"width":104,"height":103,
 "data":{"name":"bars"},"transform":[{"filter":"datum.p==='J'"}],
 "encoding":{"x":{"field":"g","type":"nominal","title":null,"scale":{"domain":["BET","RBT","Pnec-B","Pnec-C"],"paddingInner":0.38,"paddingOuter":0.4},"axis":{"labels":false,"ticks":true}}},
 "layer":[
  {"mark":{"type":"bar","strokeWidth":1},"encoding":{"y":{"field":"v","type":"quantitative","title":null,"scale":{"domain":[0,60],"nice":false},"axis":{"values":[0,10,20,30,40,50,60],"labelOverlap":false,"tickCount":20}},
   "fill":{"condition":[{"test":"datum.g==='BET'","value":"#ffffff"},{"test":"datum.g==='RBT'","value":"#000000"},{"test":"datum.g==='Pnec-B'","value":{"gradient":"linear","x1":0,"y1":0,"x2":1,"y2":1,"stops":[{"offset":0,"color":"#ffffff"},{"offset":0.08,"color":"#ffffff"},{"offset":0.08,"color":"#7a7a7a"},{"offset":0.125,"color":"#7a7a7a"},{"offset":0.125,"color":"#ffffff"},{"offset":0.205,"color":"#ffffff"},{"offset":0.205,"color":"#7a7a7a"},{"offset":0.25,"color":"#7a7a7a"},{"offset":0.25,"color":"#ffffff"},{"offset":0.33,"color":"#ffffff"},{"offset":0.33,"color":"#7a7a7a"},{"offset":0.375,"color":"#7a7a7a"},{"offset":0.375,"color":"#ffffff"},{"offset":0.455,"color":"#ffffff"},{"offset":0.455,"color":"#7a7a7a"},{"offset":0.5,"color":"#7a7a7a"},{"offset":0.5,"color":"#ffffff"},{"offset":0.58,"color":"#ffffff"},{"offset":0.58,"color":"#7a7a7a"},{"offset":0.625,"color":"#7a7a7a"},{"offset":0.625,"color":"#ffffff"},{"offset":0.705,"color":"#ffffff"},{"offset":0.705,"color":"#7a7a7a"},{"offset":0.75,"color":"#7a7a7a"},{"offset":0.75,"color":"#ffffff"},{"offset":0.83,"color":"#ffffff"},{"offset":0.83,"color":"#7a7a7a"},{"offset":0.875,"color":"#7a7a7a"},{"offset":0.875,"color":"#ffffff"},{"offset":0.955,"color":"#ffffff"},{"offset":0.955,"color":"#7a7a7a"},{"offset":1,"color":"#7a7a7a"}]}}],"value":"#9a9a9a"},
   "stroke":{"condition":[{"test":"datum.g==='BET'","value":"#555555"},{"test":"datum.g==='RBT'","value":"#000000"}],"value":"#7a7a7a"}}},
  {"mark":{"type":"rule","color":"#000","strokeWidth":1},"encoding":{"y":{"field":"v","type":"quantitative","axis":{"values":[0,10,20,30,40,50,60],"labelOverlap":false,"tickCount":20}},"y2":{"field":"hi"}}},
  {"mark":{"type":"tick","color":"#000","size":7,"thickness":1,"orient":"horizontal"},"encoding":{"y":{"field":"hi","type":"quantitative","axis":{"values":[0,10,20,30,40,50,60],"labelOverlap":false,"tickCount":20}}}},
  {"data":{"values":[{"L":"J","p":"J"}]},"mark":{"type":"text","fontSize":19,"fontWeight":"bold"},"encoding":{"x":{"datum":"Pnec-C","type":"nominal"},"y":{"datum":51.8,"type":"quantitative"},"text":{"field":"L"}}}
 ]},
{"width":104,"height":103,"view":{"stroke":null},
 "data":{"values":[{"g":"BET"},{"g":"RBT"},{"g":"Pnec-B"},{"g":"Pnec-C"}]},
 "encoding":{"y":{"field":"g","type":"ordinal","title":null,"scale":{"type":"point","domain":["BET","RBT","Pnec-B","Pnec-C"],"range":[9,57],"padding":0},"axis":null}},
 "layer":[
  {"mark":{"type":"point","shape":"M-1,-0.1H1V0.1H-1Z","size":1024,"filled":true,"strokeWidth":1,"opacity":1,"fillOpacity":1},
   "encoding":{"x":{"datum":0.2,"type":"quantitative","scale":{"domain":[0,1]},"axis":null},
   "fill":{"condition":[{"test":"datum.g==='BET'","value":"#ffffff"},{"test":"datum.g==='RBT'","value":"#000000"},{"test":"datum.g==='Pnec-B'","value":{"gradient":"linear","x1":0,"y1":0,"x2":1,"y2":0,"stops":[{"offset":0,"color":"#ffffff"},{"offset":0.05,"color":"#ffffff"},{"offset":0.05,"color":"#8a8a8a"},{"offset":0.1,"color":"#8a8a8a"},{"offset":0.1,"color":"#ffffff"},{"offset":0.15,"color":"#ffffff"},{"offset":0.15,"color":"#8a8a8a"},{"offset":0.2,"color":"#8a8a8a"},{"offset":0.2,"color":"#ffffff"},{"offset":0.25,"color":"#ffffff"},{"offset":0.25,"color":"#8a8a8a"},{"offset":0.3,"color":"#8a8a8a"},{"offset":0.3,"color":"#ffffff"},{"offset":0.35,"color":"#ffffff"},{"offset":0.35,"color":"#8a8a8a"},{"offset":0.4,"color":"#8a8a8a"},{"offset":0.4,"color":"#ffffff"},{"offset":0.45,"color":"#ffffff"},{"offset":0.45,"color":"#8a8a8a"},{"offset":0.5,"color":"#8a8a8a"},{"offset":0.5,"color":"#ffffff"},{"offset":0.55,"color":"#ffffff"},{"offset":0.55,"color":"#8a8a8a"},{"offset":0.6,"color":"#8a8a8a"},{"offset":0.6,"color":"#ffffff"},{"offset":0.65,"color":"#ffffff"},{"offset":0.65,"color":"#8a8a8a"},{"offset":0.7,"color":"#8a8a8a"},{"offset":0.7,"color":"#ffffff"},{"offset":0.75,"color":"#ffffff"},{"offset":0.75,"color":"#8a8a8a"},{"offset":0.8,"color":"#8a8a8a"},{"offset":0.8,"color":"#ffffff"},{"offset":0.85,"color":"#ffffff"},{"offset":0.85,"color":"#8a8a8a"},{"offset":0.9,"color":"#8a8a8a"},{"offset":0.9,"color":"#ffffff"},{"offset":0.95,"color":"#ffffff"},{"offset":0.95,"color":"#8a8a8a"},{"offset":1,"color":"#8a8a8a"}]}}],"value":"#9a9a9a"},
   "stroke":{"condition":[{"test":"datum.g==='BET'","value":"#555555"},{"test":"datum.g==='RBT'","value":"#000000"}],"value":"#8a8a8a"}}},
  {"mark":{"type":"text","align":"left","baseline":"middle","fontSize":13,"fontWeight":"bold","color":"#000"},
   "encoding":{"x":{"datum":0.43,"type":"quantitative","scale":{"domain":[0,1]},"axis":null},"text":{"field":"g"}}}
 ]}
],"spacing":36,"bounds":"flush","resolve":{"scale":{"x":"independent","y":"independent"}}}
],
"config":{
 "font":"Liberation Sans",
 "view":{"stroke":"#9a9a9a","strokeWidth":1},
 "axis":{"labelFontWeight":"bold","labelFontSize":10,"labelColor":"#000","tickColor":"#000","tickSize":4,"domain":false,"grid":false,"labelPadding":2,"labelOverlap":false,"labelFlush":false,"labelBound":false},
 "title":{"fontSize":11,"fontWeight":"bold","fontStyle":"italic","color":"#000","subtitleFontSize":10,"subtitleFontWeight":"bold","subtitleFontStyle":"normal","subtitleColor":"#000","subtitlePadding":3,"offset":3,"anchor":"middle"}
}
}
